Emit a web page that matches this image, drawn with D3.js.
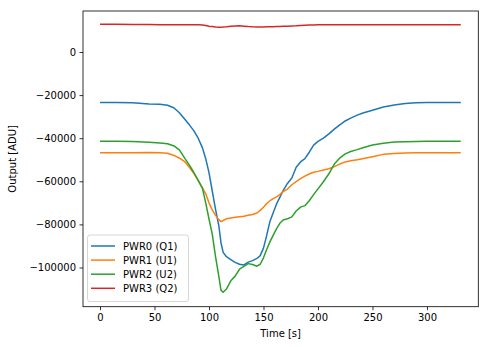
<!DOCTYPE html>
<html><head><meta charset="utf-8">
<script src="https://cdn.jsdelivr.net/npm/d3@7"></script>
<style>body{margin:0;background:#fff;} text{font-family:"DejaVu Sans",sans-serif;}</style>
</head><body>
<svg id="chart" width="489" height="347"></svg>
<script>
const seriesNames = ["PWR0 (Q1)", "PWR1 (U1)", "PWR2 (U2)", "PWR3 (Q2)"];
const seriesColors = ["#1f77b4", "#ff7f0e", "#2ca02c", "#d62728"];
const timeS = [0,15,30,45,55,62,68,73,78,82,86,90,94,97,100,103,106,109,111,113,116,120,124,128,132,136,140,144,147,150,153,156,159,162,165,168,172,176,180,184,188,192,196,200,205,210,215,220,225,230,236,242,250,260,270,280,290,300,315,331];
const pwr0 = [-23400,-23450,-23600,-24100,-24300,-24700,-26000,-28300,-31300,-33800,-36500,-39900,-44500,-49500,-56000,-64500,-73000,-80500,-88500,-93000,-95000,-96300,-97600,-98500,-98800,-97500,-96800,-95800,-94500,-91000,-85000,-78500,-74500,-70500,-67500,-64300,-61000,-58500,-53500,-51000,-49500,-46500,-43200,-41500,-40000,-38000,-35800,-33800,-32000,-30700,-29300,-28200,-27000,-25500,-24600,-23900,-23500,-23400,-23400,-23400];
const pwr1 = [-46700,-46700,-46700,-46600,-46800,-47000,-48000,-49300,-51000,-53500,-56300,-59600,-63000,-65800,-70000,-73300,-75800,-77800,-78700,-78200,-77400,-77000,-76700,-76400,-76200,-75800,-75400,-74700,-73500,-72000,-70300,-69000,-68000,-67200,-66200,-64800,-63600,-61600,-60200,-58800,-57600,-56600,-55800,-55400,-54800,-54200,-53200,-52000,-51000,-50500,-50000,-49400,-48600,-47500,-47100,-46900,-46800,-46800,-46700,-46700];
const pwr2 = [-41400,-41400,-41500,-41900,-42200,-42600,-43600,-45500,-49500,-52500,-55800,-59500,-63300,-70000,-77500,-84500,-95000,-104000,-110500,-111500,-110000,-106200,-104000,-100800,-99500,-98200,-98600,-99400,-98500,-95500,-91500,-88000,-85000,-82000,-79500,-78000,-77400,-76500,-73800,-72000,-71300,-69000,-66200,-63500,-60200,-56500,-52000,-49200,-47300,-46200,-45300,-44300,-43200,-42300,-41800,-41600,-41500,-41400,-41400,-41400];
const pwr3 = [12900,12850,12800,12750,12700,12700,12700,12700,12650,12650,12600,12600,12500,12300,12000,11800,11600,11500,11500,11550,11700,11950,12100,12150,12000,11800,11700,11650,11650,11650,11700,11700,11750,11800,11850,11900,12000,12100,12200,12350,12450,12500,12550,12600,12650,12650,12650,12700,12700,12700,12700,12700,12700,12700,12700,12700,12700,12700,12700,12700];
const xTicks = [0,50,100,150,200,250,300];
const yTicks = [0,-20000,-40000,-60000,-80000,-100000];
const xLabel = "Time [s]";
const yLabel = "Output [ADU]";

const svg = d3.select("#chart");
const L = 83, R = 478.3, T = 11, B = 306.7;
const x = d3.scaleLinear().domain([-15.6, 347.1]).range([L, R]);
const y = d3.scaleLinear().domain([-118190, 19026]).range([B, T]);

const fmt = v => (v < 0 ? "\u2212" + Math.abs(v) : String(v));

const xAxis = svg.append("g").attr("transform", `translate(0,${B})`)
  .call(d3.axisBottom(x).tickValues(xTicks).tickSize(3.5).tickPadding(3.5).tickFormat(fmt));
const yAxis = svg.append("g").attr("transform", `translate(${L},0)`)
  .call(d3.axisLeft(y).tickValues(yTicks).tickSize(3.5).tickPadding(3.5).tickFormat(fmt));
[xAxis, yAxis].forEach(a => {
  a.select(".domain").remove();
  a.selectAll("line").attr("stroke", "#000").attr("stroke-width", 0.8);
  a.selectAll("text").attr("font-size", 10).attr("fill", "#000").attr("font-family", "DejaVu Sans");
});

const series = [pwr0, pwr1, pwr2, pwr3];
const line = d3.line().x((d, i) => x(timeS[i])).y(d => y(d));
series.forEach((s, k) => {
  svg.append("path").datum(s).attr("d", line)
    .attr("fill", "none").attr("stroke", seriesColors[k]).attr("stroke-width", 1.5)
    .attr("stroke-linejoin", "round");
});

svg.append("rect").attr("x", L).attr("y", T).attr("width", R - L).attr("height", B - T)
  .attr("fill", "none").attr("stroke", "#000").attr("stroke-width", 0.8);

svg.append("text").attr("x", (L + R) / 2).attr("y", 337).attr("text-anchor", "middle")
  .attr("font-size", 10).text(xLabel);
svg.append("text").attr("transform", `translate(16,${(T + B) / 2}) rotate(-90)`)
  .attr("text-anchor", "middle").attr("font-size", 10).text(yLabel);

// legend
const lg = svg.append("g");
lg.append("rect").attr("x", 87.5).attr("y", 235).attr("width", 101).attr("height", 66.5)
  .attr("rx", 2.5).attr("fill", "#fff").attr("fill-opacity", 0.8)
  .attr("stroke", "#ccc").attr("stroke-width", 0.8);
seriesNames.forEach((n, k) => {
  const yy = 246 + k * 14.1;
  lg.append("line").attr("x1", 91).attr("x2", 115).attr("y1", yy).attr("y2", yy)
    .attr("stroke", seriesColors[k]).attr("stroke-width", 1.5);
  lg.append("text").attr("x", 123).attr("y", yy + 3.6).attr("font-size", 10).text(n);
});
</script>
</body></html>
